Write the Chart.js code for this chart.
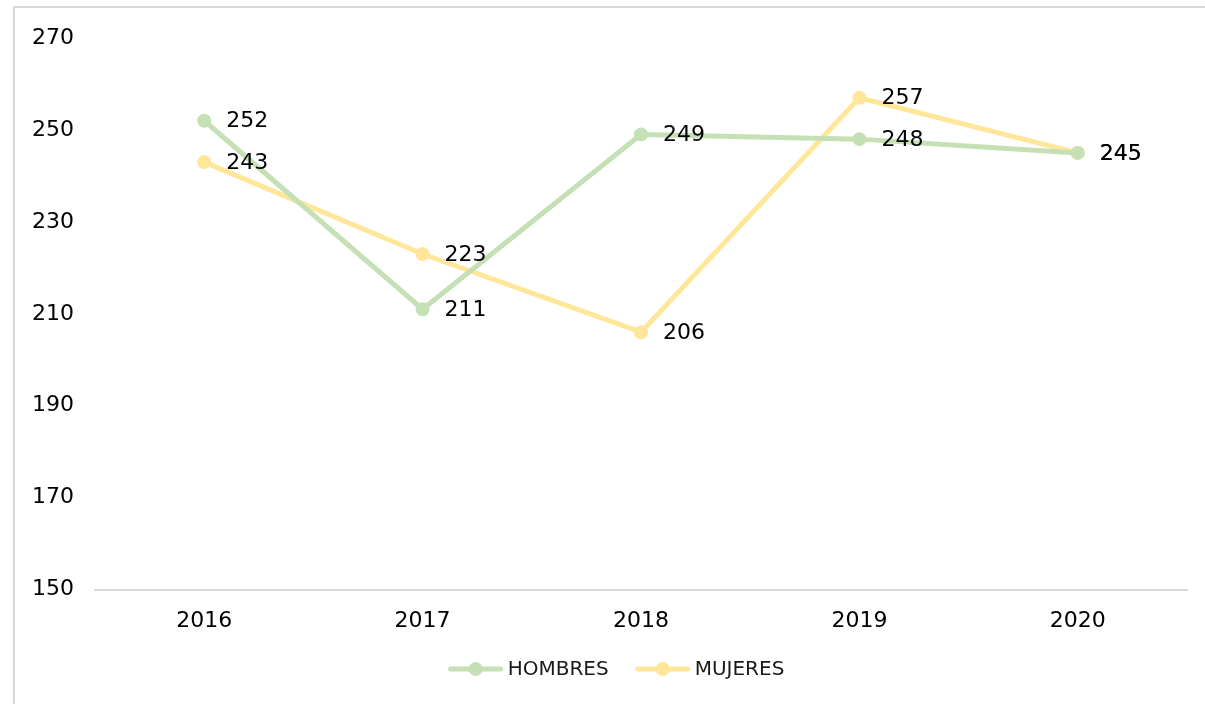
<!DOCTYPE html>
<html>
<head>
<meta charset="utf-8">
<script src="https://cdn.jsdelivr.net/npm/chart.js@4"></script>
<style>
    html, body { margin: 0; padding: 0; background: #fff; }
    #frame {
        position: absolute;
        left: 13px;
        top: 6px;
        width: 1200px;
        height: 720px;
        border-left: 2px solid #d9d9d9;
        border-top: 2px solid #d9d9d9;
    }
    #wrap { position: absolute; left: 0; top: 0; width: 1205px; height: 704px; }
</style>
</head>
<body>
<div id="frame"></div>
<div id="wrap"><canvas id="chart" width="1205" height="704"></canvas></div>
<script>
// Data
const years = ['2016', '2017', '2018', '2019', '2020'];
const hombres = [252, 211, 249, 248, 245];
const mujeres = [243, 223, 206, 257, 245];
const yTicks = [150, 170, 190, 210, 230, 250, 270];

const colors = {
    hombres: '#c5e0b4',
    mujeres: '#ffe699',
    axis: '#d9d9d9',
    text: '#000000'
};

const fontFamily = '"DejaVu Sans", Verdana, sans-serif';

// Value labels to the right of each point
const valueLabels = {
    id: 'valueLabels',
    afterDatasetsDraw(chart) {
        const ctx = chart.ctx;
        ctx.save();
        ctx.font = '22px ' + fontFamily;
        ctx.fillStyle = colors.text;
        ctx.textAlign = 'left';
        ctx.textBaseline = 'middle';
        chart.data.datasets.forEach((ds, i) => {
            chart.getDatasetMeta(i).data.forEach((pt, j) => {
                ctx.fillText(String(ds.data[j]), pt.x + 22, pt.y + 1);
            });
        });
        ctx.restore();
    }
};

// Bottom legend: line-with-dot marker followed by the series name
const lineLegend = {
    id: 'lineLegend',
    afterDraw(chart, args, opts) {
        const ctx = chart.ctx;
        const markerW = 56, gap = 4, itemGap = 26;
        ctx.save();
        ctx.font = '20px ' + fontFamily;
        const items = chart.data.datasets.map(ds => ({
            label: ds.label,
            color: ds.borderColor,
            textW: ctx.measureText(ds.label).width
        }));
        const total = items.reduce((s, it) => s + markerW + gap + it.textW, 0) + itemGap * (items.length - 1);
        let x = opts.centerX - total / 2;
        const y = opts.y;
        items.forEach(it => {
            ctx.strokeStyle = it.color;
            ctx.lineWidth = 5;
            ctx.lineCap = 'round';
            ctx.beginPath();
            ctx.moveTo(x + 3, y);
            ctx.lineTo(x + markerW - 3, y);
            ctx.stroke();
            ctx.fillStyle = it.color;
            ctx.beginPath();
            ctx.arc(x + markerW / 2, y, 7, 0, Math.PI * 2);
            ctx.fill();
            ctx.fillStyle = '#1a1a1a';
            ctx.textAlign = 'left';
            ctx.textBaseline = 'middle';
            ctx.fillText(it.label, x + markerW + gap, y + 1);
            x += markerW + gap + it.textW + itemGap;
        });
        ctx.restore();
    }
};

new Chart(document.getElementById('chart'), {
    type: 'line',
    data: {
        labels: years,
        datasets: [
            {
                label: 'HOMBRES',
                data: hombres,
                borderColor: colors.hombres,
                backgroundColor: colors.hombres,
                borderWidth: 5,
                pointStyle: 'circle',
                pointRadius: 7,
                pointBackgroundColor: colors.hombres,
                pointBorderWidth: 0,
                tension: 0
            },
            {
                label: 'MUJERES',
                data: mujeres,
                borderColor: colors.mujeres,
                backgroundColor: colors.mujeres,
                borderWidth: 5,
                pointStyle: 'circle',
                pointRadius: 7,
                pointBackgroundColor: colors.mujeres,
                pointBorderWidth: 0,
                tension: 0
            }
        ]
    },
    options: {
        responsive: false,
        animation: false,
        layout: {
            padding: { left: 32, right: 18, top: 38, bottom: 52 }
        },
        plugins: {
            legend: { display: false },
            tooltip: { enabled: false },
            lineLegend: { centerX: 616, y: 669 }
        },
        scales: {
            x: {
                offset: true,
                grid: {
                    display: false,
                    drawTicks: false
                },
                border: { display: true, color: colors.axis, width: 2 },
                ticks: {
                    padding: 18,
                    color: colors.text,
                    font: { family: fontFamily, size: 22 }
                }
            },
            y: {
                min: 150,
                max: 270,
                afterFit(scale) { scale.width = 63; },
                afterBuildTicks(scale) {
                    scale.ticks = yTicks.map(v => ({ value: v }));
                },
                grid: { display: false, drawTicks: false },
                border: { display: false },
                ticks: {
                    crossAlign: 'far',
                    padding: 0,
                    color: colors.text,
                    font: { family: fontFamily, size: 22 }
                }
            }
        }
    },
    plugins: [valueLabels, lineLegend]
});
</script>
</body>
</html>
